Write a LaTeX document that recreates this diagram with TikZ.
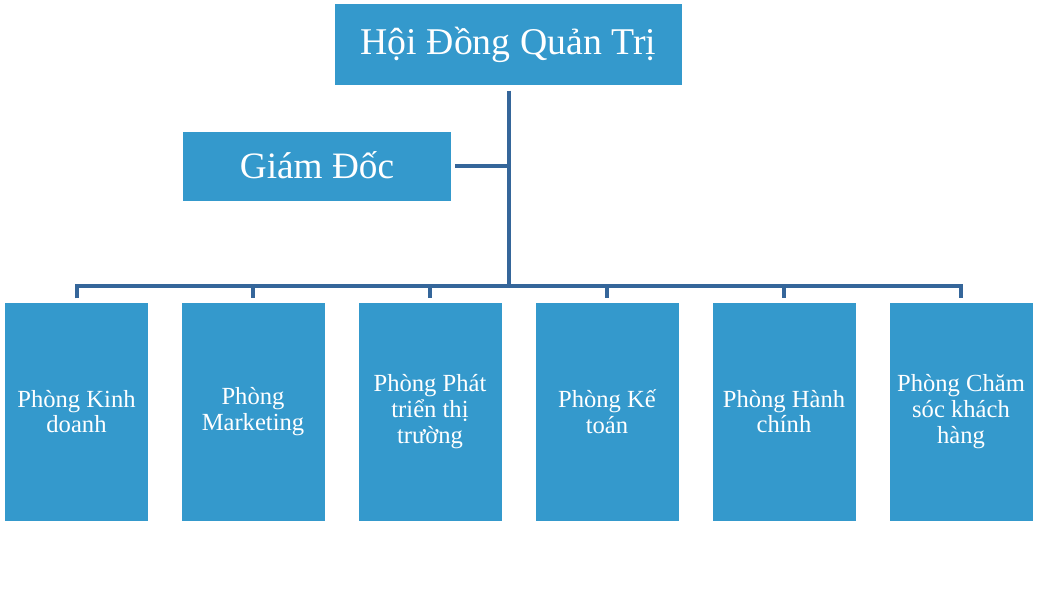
\documentclass[tikz,border=0pt]{standalone}
\usepackage{fontspec}
\setmainfont{Liberation Serif}
\definecolor{boxblue}{HTML}{3499CC}
\definecolor{lineblue}{HTML}{35669A}
\newlength\pxl
\setlength\pxl{0.02cm}
\begin{document}
\begin{tikzpicture}[x=0.02cm,y=-0.02cm,
		bigbox/.style={fill=boxblue,text=white,inner sep=0pt,font=\fontsize{21.5}{26}\selectfont},
		dept/.style={fill=boxblue,text=white,inner sep=0pt,align=center,minimum width=143\pxl,minimum height=218\pxl,font=\fontsize{14}{14.6}\selectfont},
		conn/.style={draw=lineblue,line width=4\pxl}]
		\useasboundingbox (0,0) rectangle (1039,602);
		\node[bigbox,minimum width=347\pxl,minimum height=81\pxl,text height=14pt,text depth=2.4pt] (hdqt) at (508.5,44.8){Hội Đồng Quản Trị};
		\node[bigbox,minimum width=268\pxl,minimum height=69\pxl,text height=15pt,text depth=1.4pt,font=\fontsize{21.2}{26}\selectfont] (gd) at (317,166.2){Giám Đốc};
		\node[dept] (kd) at (76.5,411.7){Phòng Kinh\\doanh};
		\node[dept] (mk) at (253,411.7){Phòng\\Marketing};
		\node[dept] (pt) at (430,411.7){Phòng Phát\\triển thị\\trường};
		\node[dept] (kt) at (607,411.7){Phòng Kế\\toán};
		\node[dept] (hc) at (784,411.7){Phòng Hành\\chính};
		\node[dept] (cs) at (961,411.7){Phòng Chăm\\sóc khách\\hàng};
		\coordinate (junc) at (508.5,285.5);
		\draw[conn,shorten <=5\pxl] (hdqt.south) -- (junc);
		\draw[conn,shorten <=4\pxl] (gd.east) -- (gd.east -| junc);
		\draw[conn,shorten <=4\pxl,shorten >=4\pxl] (kd.north) -- (kd.north |- junc) -- (cs.north |- junc) -- (cs.north);
		\draw[conn,shorten >=4\pxl] (mk.north |- junc) -- (mk.north);
		\draw[conn,shorten >=4\pxl] (pt.north |- junc) -- (pt.north);
		\draw[conn,shorten >=4\pxl] (kt.north |- junc) -- (kt.north);
		\draw[conn,shorten >=4\pxl] (hc.north |- junc) -- (hc.north);
	\end{tikzpicture}
\end{document}
